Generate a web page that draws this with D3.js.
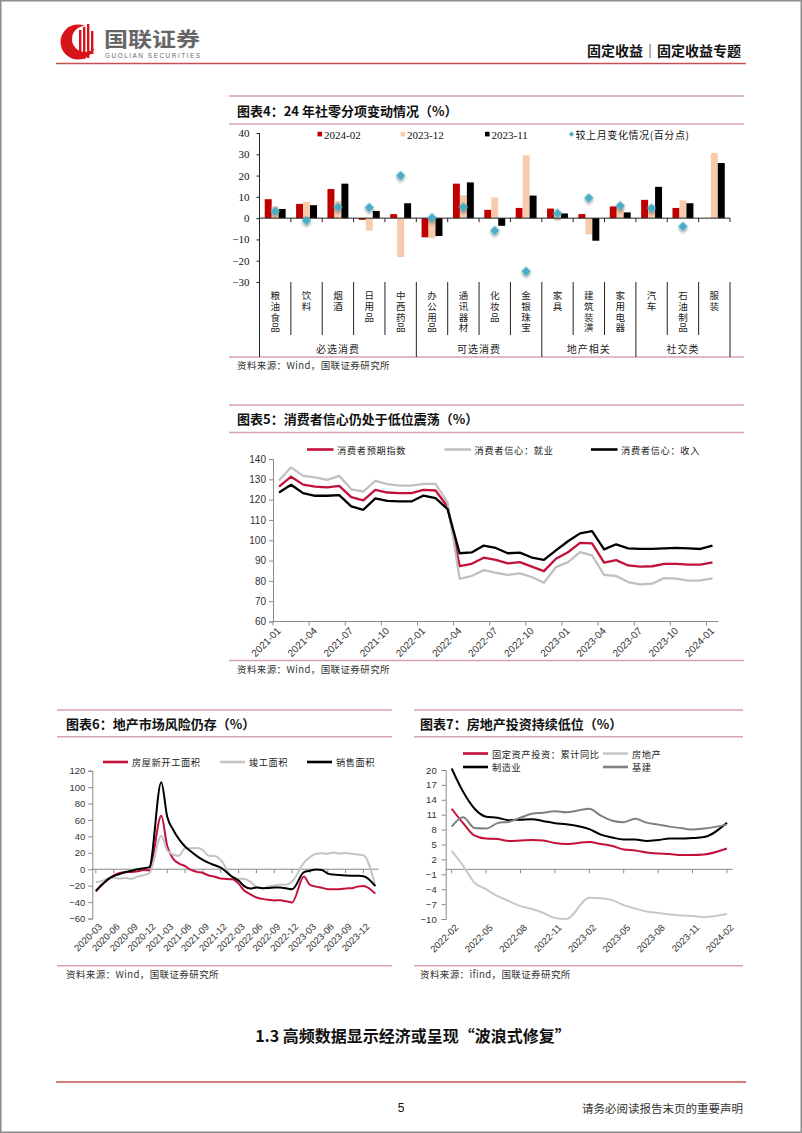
<!DOCTYPE html>
<html><head><meta charset="utf-8">
<script src="https://cdn.jsdelivr.net/npm/d3@7"></script>
<style>body{margin:0;background:#fff}svg{display:block}</style>
</head><body>
<svg id="page" width="802" height="1133"></svg>
<script>
// ---------- DATA ----------
// Chart 4
const categories4 = ['粮油食品','饮料','烟酒','日用品','中西药品','办公用品','通讯器材','化妆品','金银珠宝','家具','建筑装潢','家用电器','汽车','石油制品','服装'];
const groups4 = [['必选消费',5],['可选消费',4],['地产相关',3],['社交类',3]];
const seriesNames4 = ['2024-02','2023-12','2023-11'];
const s2024_02 = [8.9, 6.7, 13.7, -0.8, 1.9, -9.0, 16.2, 3.9, 4.8, 4.5, 1.9, 5.5, 8.6, 4.8, 0];
const s2023_12 = [5.5, 7.6, 8.0, -5.9, -18.3, -9.4, 10.8, 9.7, 29.5, -1.0, -7.6, 4.5, 3.5, 8.3, 30.6];
const s2023_11 = [4.3, 6.1, 16.2, 3.4, 7.0, -8.4, 16.8, -3.6, 10.6, 2.2, -10.6, 2.7, 14.7, 7.0, 25.9];
const change4 = [3.3, -1.1, 5.2, 5.0, 20.0, 0.2, 5.2, -5.8, -25.0, 2.3, 9.5, 5.8, 4.7, -3.9, null];
const yTicks4 = [-30,-20,-10,0,10,20,30,40];

// Chart 5 (monthly 2021-01 .. 2024-01)
const xLabels5 = ['2021-01','2021-04','2021-07','2021-10','2022-01','2022-04','2022-07','2022-10','2023-01','2023-04','2023-07','2023-10','2024-01'];
const expect5 = [126.4,131.3,127.4,126.4,126.0,126.8,121.2,119.6,124.8,123.5,123.2,123.2,124.8,124.5,116.5,87.3,88.4,91.4,90.3,88.6,89.2,87.0,84.8,90.9,94.1,98.7,98.5,89.0,90.2,87.6,87.0,87.2,88.4,88.4,88.0,88.0,89.1];
const job5 = [129.4,135.9,131.7,130.9,129.7,131.7,125.1,124.0,129.2,127.6,126.9,126.9,127.8,127.8,118.5,81.0,82.4,85.3,84.0,82.9,83.7,81.9,79.1,86.8,89.2,94.1,92.5,83.0,82.4,79.4,78.3,78.6,81.4,81.1,80.1,80.2,81.2];
const income5 = [123.5,127.3,123.2,121.9,121.9,122.2,116.7,115.0,120.6,119.4,119.1,119.1,122.0,120.7,115.3,93.6,94.0,97.4,96.2,93.6,93.9,91.5,90.3,95.0,99.5,103.4,104.5,95.5,98.0,96.0,95.8,95.8,96.0,96.2,96.0,95.7,97.3];
const yTicks5 = [60,70,80,90,100,110,120,130,140];

// Chart 6
const months6 = ['2020-03','2020-04','2020-05','2020-06','2020-07','2020-08','2020-09','2020-10','2020-11','2020-12',
 '2021-02','2021-03','2021-04','2021-05','2021-06','2021-07','2021-08','2021-09','2021-10','2021-11','2021-12',
 '2022-02','2022-03','2022-04','2022-05','2022-06','2022-07','2022-08','2022-09','2022-10','2022-11','2022-12',
 '2023-02','2023-03','2023-04','2023-05','2023-06','2023-07','2023-08','2023-09','2023-10','2023-11','2023-12','2024-02'];
const newStart6 = [-27.2,-18.4,-12.8,-7.6,-4.5,-3.6,-3.4,-2.6,-1.0,-1.2,
 65.0,28.2,12.8,6.9,3.8,-0.9,-3.2,-4.5,-7.7,-9.1,-11.4,
 -12.2,-17.5,-26.3,-30.6,-34.4,-36.1,-37.2,-38.0,-37.8,-38.9,-40.5,
 -9.0,-19.2,-21.2,-22.6,-24.3,-24.5,-24.4,-23.4,-23.2,-21.2,-20.4,-29.7];
const completed6 = [-15.8,-14.5,-11.5,-10.5,-11.3,-10.8,-11.6,-9.2,-7.3,-4.9,
 40.4,22.9,17.9,16.4,25.7,25.7,26.0,23.4,16.3,16.0,11.2,
 -9.8,-11.5,-11.9,-15.3,-21.5,-23.3,-21.1,-19.9,-18.7,-19.0,-15.0,
 8.0,14.7,18.8,19.6,19.0,20.5,19.2,19.8,19.0,17.9,17.0,-20.2];
const sales6 = [-26.3,-19.3,-12.3,-8.4,-5.8,-3.3,-1.8,0.0,1.3,2.6,
 106.0,63.8,48.1,36.3,27.7,21.5,15.9,11.3,7.7,4.8,1.9,
 -9.6,-13.8,-20.9,-23.6,-22.2,-23.1,-23.0,-22.2,-22.3,-23.3,-24.3,
 -3.6,-1.8,-0.4,-0.9,-5.3,-6.5,-7.1,-7.5,-7.8,-8.0,-8.5,-20.5];
const xLabels6 = ['2020-03','2020-06','2020-09','2020-12','2021-03','2021-06','2021-09','2021-12','2022-03','2022-06','2022-09','2022-12','2023-03','2023-06','2023-09','2023-12'];
const yTicks6 = [-60,-40,-20,0,20,40,60,80,100,120];

// Chart 7
const months7 = ['2022-02','2022-03','2022-04','2022-05','2022-06','2022-07','2022-08','2022-09','2022-10','2022-11','2022-12',
 '2023-02','2023-03','2023-04','2023-05','2023-06','2023-07','2023-08','2023-09','2023-10','2023-11','2023-12','2024-02'];
const fai7 = [12.2,9.3,6.8,6.2,6.1,5.7,5.8,5.9,5.8,5.3,5.1,5.5,5.1,4.7,4.0,3.8,3.4,3.2,3.1,2.9,2.9,3.0,4.2];
const realEstate7 = [3.7,0.7,-2.7,-4.0,-5.4,-6.4,-7.4,-8.0,-8.8,-9.8,-10.0,-5.7,-5.8,-6.2,-7.2,-7.9,-8.5,-8.8,-9.1,-9.3,-9.4,-9.6,-9.0];
const mfg7 = [20.3,15.6,12.2,10.6,10.4,9.9,10.0,10.1,9.7,9.3,9.1,8.1,7.0,6.4,6.0,6.0,5.7,5.9,6.2,6.2,6.3,6.5,9.4];
const infra7 = [8.6,10.5,8.3,8.2,9.3,9.6,10.4,11.2,11.4,11.7,11.5,12.2,10.8,9.8,9.5,10.2,9.4,9.0,8.6,8.3,8.0,8.2,9.0];
const xLabels7 = ['2022-02','2022-05','2022-08','2022-11','2023-02','2023-05','2023-08','2023-11','2024-02'];
const yTicks7 = [-10,-7,-4,-1,2,5,8,11,14,17,20];

// ---------- STYLE ----------
const CJK = '"Noto Sans CJK SC", sans-serif';
const SERIF = '"Liberation Serif", "Times New Roman", serif';
const SANS = '"Liberation Sans", Arial, sans-serif';
const PINK = '#d8a2b4';
const HEADRED = '#c4504f';
const LRED = '#c3113a';
const AX = '#8a8a8a';

const svg = d3.select('#page');
const defs = svg.append('defs');
const f = defs.append('filter').attr('id','shadow').attr('x','-50%').attr('y','-50%').attr('width','200%').attr('height','200%');
f.append('feDropShadow').attr('dx',1.6).attr('dy',1.6).attr('stdDeviation',1).attr('flood-color','#000').attr('flood-opacity',0.35);

// page border
svg.append('rect').attr('x',0.75).attr('y',0.75).attr('width',800.5).attr('height',1131.5)
  .attr('fill','none').attr('stroke','#8c8c8c').attr('stroke-width',1.5);

// ---------- HEADER ----------
const hd = svg.append('g');
hd.append('circle').attr('cx',78).attr('cy',42).attr('r',17.5).attr('fill','#d7141a');
hd.append('circle').attr('cx',85).attr('cy',39).attr('r',13).attr('fill','#fff');
[[79,30,58],[83,27,59],[87,24,58],[91,31,54]].forEach(([x,y1,y2])=>{
  hd.append('rect').attr('x',x).attr('y',y1).attr('width',2.4).attr('height',y2-y1).attr('fill','#d7141a');
});
hd.append('text').attr('x',104).attr('y',47).text('国联证券')
  .attr('font-family',CJK).attr('font-weight',700).attr('font-size',20).attr('fill','#666')
  .attr('textLength',96).attr('lengthAdjust','spacingAndGlyphs');
hd.append('text').attr('x',105).attr('y',58).text('GUOLIAN SECURITIES')
  .attr('font-family',SANS).attr('font-size',6.4).attr('fill','#666')
  .attr('textLength',95).attr('lengthAdjust','spacing');
hd.append('text').attr('x',741).attr('y',50).attr('text-anchor','end').text('固定收益｜固定收益专题')
  .attr('font-family',CJK).attr('font-weight',700).attr('font-size',14).attr('fill','#111')
  .attr('dominant-baseline','central');
svg.append('line').attr('x1',56).attr('x2',746).attr('y1',63.5).attr('y2',63.5)
  .attr('stroke',HEADRED).attr('stroke-width',1.6);

// ---------- FRAME HELPER ----------
function frame(x1,x2,yTop,yTitleLine,yBottom,title,titleX,source){
  const g = svg.append('g');
  [yTop,yTitleLine,yBottom].forEach(y=>g.append('line').attr('x1',x1).attr('x2',x2).attr('y1',y).attr('y2',y)
     .attr('stroke',PINK).attr('stroke-width',1.4));
  g.append('text').attr('x',titleX).attr('y',(yTop+yTitleLine)/2).text(title)
   .attr('font-family',CJK).attr('font-weight',700).attr('font-size',13).attr('fill','#111')
   .attr('dominant-baseline','central');
  g.append('text').attr('x',titleX).attr('y',yBottom+8).text(source)
   .attr('font-family',CJK).attr('font-size',9.5).attr('fill','#333')
   .attr('dominant-baseline','central').attr('letter-spacing',0.4);
  return g;
}

// ---------- CHART 4 ----------
frame(229,744,96,124,357,'图表4：24 年社零分项变动情况（%）',237,'资料来源：Wind，国联证券研究所');
const c4 = svg.append('g');
const y4 = d3.scaleLinear().domain([-30,40]).range([282,133]);
const x4 = d3.scaleBand().domain(categories4).range([259.5,730]);
const xs4 = d3.scaleBand().domain(seriesNames4).range([0,x4.bandwidth()]).paddingOuter(0.75);
const colors4 = {'2024-02':'#c00000','2023-12':'#f8cbad','2023-11':'#000000'};
const seriesVals4 = {'2024-02':s2024_02,'2023-12':s2023_12,'2023-11':s2023_11};
seriesNames4.forEach(s=>{
  c4.append('g').selectAll('rect').data(seriesVals4[s]).join('rect')
    .attr('x',(d,i)=>x4(categories4[i])+xs4(s))
    .attr('width',xs4.bandwidth())
    .attr('y',d=>Math.min(y4(d),y4(0)))
    .attr('height',d=>Math.abs(y4(d)-y4(0)))
    .attr('fill',colors4[s]);
});
// y axis
const ya4 = c4.append('g').attr('transform','translate(259.5,0)')
  .call(d3.axisLeft(y4).tickValues(yTicks4).tickSize(3).tickPadding(7));
ya4.select('.domain').remove();
ya4.selectAll('line').attr('stroke','#222');
ya4.selectAll('text').attr('font-family',SERIF).attr('font-size',11).attr('fill','#111');
c4.append('line').attr('x1',259.5).attr('x2',259.5).attr('y1',133).attr('y2',357).attr('stroke','#222');
// zero axis
c4.append('line').attr('x1',259.5).attr('x2',730).attr('y1',y4(0)).attr('y2',y4(0)).attr('stroke','#222');
const bounds4 = d3.range(categories4.length+1).map(i=>259.5+i*x4.bandwidth());
c4.selectAll('line.zt').data(bounds4).join('line')
  .attr('x1',d=>d).attr('x2',d=>d).attr('y1',y4(0)).attr('y2',y4(0)+4).attr('stroke','#222');
// separators
const groupBounds = [0]; groups4.reduce((a,g)=>{groupBounds.push(a+g[1]); return a+g[1];},0);
bounds4.forEach((bx,i)=>{
  const isG = groupBounds.includes(i);
  c4.append('line').attr('x1',bx).attr('x2',bx).attr('y1',282).attr('y2',isG?357:335).attr('stroke','#222');
});
// vertical category labels (one vertical text per category)
categories4.forEach(c=>{
  const cx = x4(c)+x4.bandwidth()/2;
  c4.append('text').attr('x',cx).attr('y',291).text(c)
    .attr('font-family',CJK).attr('font-size',9.5).attr('fill','#222')
    .style('writing-mode','vertical-rl').style('text-orientation','upright')
    .attr('letter-spacing',1.1);
});
// group labels
groups4.forEach((g,i)=>{
  const a = x4(categories4[groupBounds[i]]);
  const b = a + g[1]*x4.bandwidth();
  c4.append('text').attr('x',(a+b)/2).attr('y',348).text(g[0])
    .attr('font-family',CJK).attr('font-size',10).attr('fill','#222').attr('letter-spacing',1)
    .attr('text-anchor','middle').attr('dominant-baseline','central');
});
// diamonds
const diamond = d3.symbol(d3.symbolSquare, 46);
c4.append('g').selectAll('path').data(change4.map((v,i)=>[v,i]).filter(d=>d[0]!==null)).join('path')
  .attr('d',diamond)
  .attr('transform',d=>`translate(${x4(categories4[d[1]])+x4.bandwidth()/2},${y4(d[0])}) rotate(45)`)
  .attr('fill','#4bacc6').attr('filter','url(#shadow)');
// legend
const leg4 = [
  {t:'2024-02',x:317.5,c:'#c00000',type:'sq'},
  {t:'2023-12',x:400.5,c:'#f8cbad',type:'sq'},
  {t:'2023-11',x:485,c:'#000',type:'sq'},
  {t:'较上月变化情况(百分点)',x:569,c:'#4bacc6',type:'dm'}];
leg4.forEach(l=>{
  if(l.type==='sq') c4.append('rect').attr('x',l.x).attr('y',131.8).attr('width',4.6).attr('height',4.6).attr('fill',l.c);
  else c4.append('path').attr('d',d3.symbol(d3.symbolSquare,14)).attr('transform',`translate(${l.x+2.5},134.2) rotate(45)`).attr('fill',l.c);
  c4.append('text').attr('x',l.x+6.5).attr('y',134.5).text(l.t)
    .attr('font-family',l.type==='sq'?SERIF:CJK).attr('font-size',l.type==='sq'?11:10).attr('fill','#111')
    .attr('dominant-baseline','central').attr('letter-spacing',l.type==='sq'?0:0.6);
});

// ---------- CHART 5 ----------
frame(229,744,405,432.5,660.5,'图表5：消费者信心仍处于低位震荡（%）',237,'资料来源：Wind，国联证券研究所');
const c5 = svg.append('g');
const x5 = d3.scaleLinear().domain([0,37]).range([273,718.5]);
const y5 = d3.scaleLinear().domain([60,140]).range([621.5,459]);
const ya5 = c5.append('g').attr('transform','translate(273,0)')
  .call(d3.axisLeft(y5).tickValues(yTicks5).tickSize(4).tickPadding(3));
ya5.select('.domain').attr('stroke',AX);
ya5.selectAll('line').attr('stroke',AX);
ya5.selectAll('text').attr('font-family',SANS).attr('font-size',10).attr('fill','#333');
c5.append('line').attr('x1',273).attr('x2',718.5).attr('y1',621.5).attr('y2',621.5).attr('stroke',AX);
xLabels5.forEach((lab,k)=>{
  const n = k*3, tx = x5(n);
  c5.append('line').attr('x1',tx).attr('x2',tx).attr('y1',621.5).attr('y2',625.5).attr('stroke',AX);
  c5.append('text').attr('transform',`translate(${tx+6},${629}) rotate(-45)`).text(lab)
    .attr('text-anchor','end').attr('dy','0.35em')
    .attr('font-family',SANS).attr('font-size',10).attr('fill','#333');
});
const line5 = d3.line().x((d,i)=>x5(i+0.5)).y(d=>y5(d));
[[expect5,LRED],[job5,'#c0c0c0'],[income5,'#000']].forEach(([arr,c])=>{
  c5.append('path').attr('d',line5(arr)).attr('fill','none').attr('stroke',c).attr('stroke-width',2.3).attr('stroke-linejoin','round');
});
[[307,'消费者预期指数',LRED],[444.5,'消费者信心：就业','#c0c0c0'],[591,'消费者信心：收入','#000']].forEach(([x,t,c])=>{
  c5.append('line').attr('x1',x).attr('x2',x+26.5).attr('y1',449.5).attr('y2',449.5).attr('stroke',c).attr('stroke-width',2.6);
  c5.append('text').attr('x',x+30).attr('y',449.5).text(t).attr('font-family',CJK).attr('font-size',9.2)
    .attr('fill','#222').attr('dominant-baseline','central').attr('letter-spacing',0.7);
});

// ---------- CHART 6 ----------
frame(57,392,710,736.7,965.7,'图表6：地产市场风险仍存（%）',66,'资料来源：Wind，国联证券研究所');
const c6 = svg.append('g');
const mIdx6 = s=>{const [y,m]=s.split('-').map(Number); return (y-2020)*12+(m-3);};
const x6 = d3.scaleLinear().domain([-0.6,47.5]).range([92.3,378.3]);
const y6 = d3.scaleLinear().domain([-60,120]).range([918.5,770.7]);
const ya6 = c6.append('g').attr('transform','translate(92.3,0)')
  .call(d3.axisLeft(y6).tickValues(yTicks6).tickSize(4).tickPadding(3));
ya6.select('.domain').attr('stroke',AX);
ya6.selectAll('line').attr('stroke',AX);
ya6.selectAll('text').attr('font-family',SANS).attr('font-size',9.5).attr('fill','#333');
c6.append('line').attr('x1',92.3).attr('x2',378.3).attr('y1',y6(0)).attr('y2',y6(0)).attr('stroke',AX);
xLabels6.forEach(lab=>{
  const tx = x6(mIdx6(lab));
  c6.append('line').attr('x1',tx).attr('x2',tx).attr('y1',y6(0)).attr('y2',y6(0)+4).attr('stroke',AX);
  c6.append('text').attr('transform',`translate(${tx+4.5},${925}) rotate(-45)`).text(lab)
    .attr('text-anchor','end').attr('dy','0.35em')
    .attr('font-family',SANS).attr('font-size',9.5).attr('fill','#333');
});
const line6 = d3.line().x((d,i)=>x6(mIdx6(months6[i]))).y(d=>y6(d)).curve(d3.curveMonotoneX);
[[newStart6,LRED],[completed6,'#c4c4c4'],[sales6,'#000']].forEach(([arr,c])=>{
  c6.append('path').attr('d',line6(arr)).attr('fill','none').attr('stroke',c).attr('stroke-width',2).attr('stroke-linejoin','round');
});
[[103,'房屋新开工面积',LRED],[220,'竣工面积','#c4c4c4'],[307,'销售面积','#000']].forEach(([x,t,c])=>{
  c6.append('line').attr('x1',x).attr('x2',x+25).attr('y1',762).attr('y2',762).attr('stroke',c).attr('stroke-width',2.6);
  c6.append('text').attr('x',x+29).attr('y',762).text(t).attr('font-family',CJK).attr('font-size',9.2)
    .attr('fill','#222').attr('dominant-baseline','central').attr('letter-spacing',0.6);
});

// ---------- CHART 7 ----------
frame(414,743,710,736.7,965.7,'图表7：房地产投资持续低位（%）',420,'资料来源：ifind，国联证券研究所');
const c7 = svg.append('g');
const mIdx7 = s=>{const [y,m]=s.split('-').map(Number); return (y-2022)*12+(m-2);};
const x7 = d3.scaleLinear().domain([-0.52,24.5]).range([445.7,732.7]);
const y7 = d3.scaleLinear().domain([-10,20]).range([919,770]);
const ya7 = c7.append('g').attr('transform','translate(445.7,0)')
  .call(d3.axisLeft(y7).tickValues(yTicks7).tickSize(4).tickPadding(5));
ya7.select('.domain').attr('stroke',AX);
ya7.selectAll('line').attr('stroke',AX);
ya7.selectAll('text').attr('font-family',SANS).attr('font-size',9.5).attr('fill','#333');
c7.append('line').attr('x1',445.7).attr('x2',732.7).attr('y1',y7(0)).attr('y2',y7(0)).attr('stroke',AX);
xLabels7.forEach(lab=>{
  const tx = x7(mIdx7(lab));
  c7.append('line').attr('x1',tx).attr('x2',tx).attr('y1',y7(0)).attr('y2',y7(0)+4).attr('stroke',AX);
  c7.append('text').attr('transform',`translate(${tx+5},${926}) rotate(-45)`).text(lab)
    .attr('text-anchor','end').attr('dy','0.35em')
    .attr('font-family',SANS).attr('font-size',9.5).attr('fill','#333');
});
const line7 = d3.line().x((d,i)=>x7(mIdx7(months7[i]))).y(d=>y7(d)).curve(d3.curveMonotoneX);
[[fai7,LRED],[realEstate7,'#c8c8c8'],[mfg7,'#000'],[infra7,'#808080']].forEach(([arr,c])=>{
  c7.append('path').attr('d',line7(arr)).attr('fill','none').attr('stroke',c).attr('stroke-width',2).attr('stroke-linejoin','round');
});
[[463,753.5,'固定资产投资：累计同比',LRED],[603,753.5,'房地产','#c8c8c8'],[463,767,'制造业','#000'],[603,767,'基建','#808080']].forEach(([x,y,t,c])=>{
  c7.append('line').attr('x1',x).attr('x2',x+25).attr('y1',y).attr('y2',y).attr('stroke',c).attr('stroke-width',2.6);
  c7.append('text').attr('x',x+29).attr('y',y).text(t).attr('font-family',CJK).attr('font-size',9.2)
    .attr('fill','#222').attr('dominant-baseline','central').attr('letter-spacing',0.6);
});

// ---------- SECTION HEADING & FOOTER ----------
svg.append('text').attr('x',413).attr('y',1035).attr('text-anchor','middle').text('1.3 高频数据显示经济或呈现“波浪式修复”')
  .attr('font-family',CJK).attr('font-weight',700).attr('font-size',16).attr('fill','#111').attr('dominant-baseline','central');
svg.append('line').attr('x1',56).attr('x2',746).attr('y1',1082).attr('y2',1082).attr('stroke',HEADRED).attr('stroke-width',1.6);
svg.append('text').attr('x',401).attr('y',1108).attr('text-anchor','middle').text('5')
  .attr('font-family',SANS).attr('font-size',12).attr('fill','#111').attr('dominant-baseline','central');
svg.append('text').attr('x',743).attr('y',1108).attr('text-anchor','end').text('请务必阅读报告末页的重要声明')
  .attr('font-family',CJK).attr('font-size',11.5).attr('fill','#333').attr('dominant-baseline','central');
</script>
</body></html>
